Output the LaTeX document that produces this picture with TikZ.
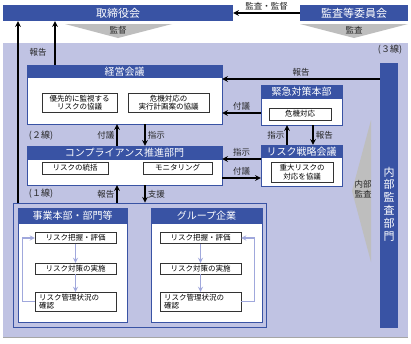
\documentclass[tikz,border=0pt]{standalone}
\usepackage{fontspec}
\setmainfont{Noto Sans CJK JP}
\usetikzlibrary{positioning}
\definecolor{hblue}{RGB}{57,83,164}
\definecolor{lav}{RGB}{192,195,227}
\definecolor{trigray}{RGB}{190,190,190}
\definecolor{ltarr}{RGB}{160,168,220}

\begin{document}
\begin{tikzpicture}[x=1pt,y=-1pt,>=stealth,
  font=\fontsize{8.5}{10}\selectfont,
  bar/.style={fill=hblue,text=white,inner sep=0pt,font=\fontsize{11}{12}\selectfont},
  hdr/.style={fill=hblue,text=white,inner sep=0pt,anchor=north,font=\fontsize{10}{11}\selectfont},
  body/.style={draw=hblue,fill=white,inner sep=0pt},
  item/.style={draw=black!80,fill=white,inner sep=0pt,align=center,font=\fontsize{7.5}{8.5}\selectfont},
  arr/.style={->,line width=1.5pt},
  lt/.style={->,ltarr,line width=1.2pt},
  lbl/.style={text=black!85,inner sep=1pt}]
  \useasboundingbox (0,0) rectangle (411,343);
  \fill[white] (0,0) rectangle (411,343);

  % background panel
  \fill[lav] (3,43) rectangle (408,337);
  \draw[black!35] (3,337) -- (408,337);

  % top row
  \node[bar,minimum width=230,minimum height=16] (board) at (118,13) {取締役会};
  \node[bar,minimum width=108,minimum height=16] (audcom) at (354,13) {監査等委員会};
  \draw[arr] (audcom) -- node[lbl,above=1pt] {監査・監督} (board);

  \fill[trigray] (65,24) -- (172,24) -- (118,38) -- cycle;
  \node[lbl] (tkan) at (118,30) {監督};
  \fill[trigray] (300,24) -- (408,24) -- (354,38) -- cycle;
  \node[lbl] (tsa) at (354,30) {監査};

  \node[lbl,font=\fontsize{9}{10}\selectfont] (l3) at (390,50) {(３線)};

  % internal audit
  \node[fill=hblue,minimum width=18,minimum height=265,inner sep=0pt] (naibu) at (389,195.5) {};
  \node[text=white,align=center,inner sep=0pt,font=\fontsize{11}{12.8}\selectfont] (naibutx) at (389,204) {内\\部\\監\\査\\部\\門};
  \fill[trigray] (371,120) -- (371,262) -- (352,191) -- cycle;
  \node[lbl,align=center,font=\fontsize{8.5}{10.5}\selectfont] (tnai) at (363,189) {内部\\監査};

  % management meeting
  \node[body,minimum width=195,minimum height=59] (keiei) at (124.5,94.5) {};
  \node[hdr,minimum width=195,minimum height=13] (keieih) at (keiei.north) {経営会議};
  \node[item,minimum width=75,minimum height=19] (k1) at (79.5,102.5) {優先的に監視する\\リスクの協議};
  \node[item,minimum width=81,minimum height=19] (k2) at (168.5,102.5) {危機対応の\\実行計画案の協議};

  % emergency HQ
  \node[body,minimum width=81,minimum height=40] (emerg) at (301.5,105) {};
  \node[hdr,minimum width=81,minimum height=14] (emergh) at (emerg.north) {緊急対策本部};
  \node[item,minimum width=62,minimum height=12] (e1) at (300,114) {危機対応};

  % risk strategy meeting
  \node[body,minimum width=81,minimum height=41] (risk) at (301.5,165.5) {};
  \node[hdr,minimum width=81,minimum height=13] (riskh) at (risk.north) {リスク戦略会議};
  \node[item,minimum width=62,minimum height=20] (r1) at (302,172) {重大リスクの\\対応を協議};

  % compliance
  \node[body,minimum width=195,minimum height=39] (comp) at (124.5,165.5) {};
  \node[hdr,minimum width=195,minimum height=14] (comph) at (comp.north) {コンプライアンス推進部門};
  \node[item,minimum width=66,minimum height=12] (c1) at (75,168) {リスクの統括};
  \node[item,minimum width=69,minimum height=12] (c2) at (177.5,168) {モニタリング};

  % first line
  \node[draw=hblue,fill=lav,line width=0.8pt,minimum width=253,minimum height=124,inner sep=0pt] (line1) at (139.5,265) {};
  \node[body,minimum width=109,minimum height=114] (jigyo) at (72.5,265) {};
  \node[hdr,minimum width=109,minimum height=16] (jigyoh) at (jigyo.north) {事業本部・部門等};
  \node[body,minimum width=111,minimum height=114] (group) at (206.5,265) {};
  \node[hdr,minimum width=111,minimum height=16] (grouph) at (group.north) {グループ企業};

  \node[item,minimum width=81,minimum height=11] (s1) at (75.5,238) {リスク把握・評価};
  \node[item,minimum width=81,minimum height=11] (s2) at (75.5,268.5) {リスク対策の実施};
  \node[item,minimum width=81,minimum height=19,align=left,text width=73] (s3) at (75.5,301.5) {リスク管理状況の\\確認};
  \draw[lt] (s1) -- (s2);
  \draw[lt] (s2) -- (s3);
  \draw[lt] (s3.west) -- ++(-12,0) |- (s1.west);

  \node[item,minimum width=81,minimum height=11] (g1) at (200.5,238) {リスク把握・評価};
  \node[item,minimum width=81,minimum height=11] (g2) at (200.5,268.5) {リスク対策の実施};
  \node[item,minimum width=81,minimum height=19,align=left,text width=73] (g3) at (200.5,301.5) {リスク管理状況の\\確認};
  \draw[lt] (g1) -- (g2);
  \draw[lt] (g2) -- (g3);
  \draw[lt] (g3.east) -- ++(13,0) |- (g1.east);

  % line labels
  \node[lbl,font=\fontsize{9}{10}\selectfont] (l2) at (41,136) {(２線)};
  \node[lbl,font=\fontsize{9}{10}\selectfont] (l1) at (41,194) {(１線)};

  % connectors
  \coordinate (xa) at (18,0);
  \coordinate (xb) at (55,0);
  \coordinate (xu) at (117,0);
  \coordinate (xd) at (145,0);
  \coordinate (xeu) at (287,0);
  \coordinate (xed) at (313,0);
  \draw[arr] (line1.north -| xa) -- (board.south -| xa);
  \draw[arr] (keiei.north -| xb) -- (board.south -| xb);
  \node[lbl] (rep0) at (38,52) {報告};

  \draw[arr] (comp.north -| xu) -- node[lbl,left=1pt] {付議} (keiei.south -| xu);
  \draw[arr] (keiei.south -| xd) -- node[lbl,right=1pt] {指示} (comp.north -| xd);
  \draw[arr] (line1.north -| xu) -- node[lbl,left=1pt] {報告} (comp.south -| xu);
  \draw[arr] (comp.south -| xd) -- node[lbl,right=1pt] {支援} (line1.north -| xd);

  \draw[arr] (risk.north -| xeu) -- node[lbl,left=1pt] {指示} (emerg.south -| xeu);
  \draw[arr] (emerg.south -| xed) -- node[lbl,right=1pt] {報告} (risk.north -| xed);

  \coordinate (ya) at (0,79);
  \coordinate (yb) at (0,113);
  \coordinate (yc) at (0,159);
  \coordinate (yd) at (0,178);
  \draw[arr] (naibu.west |- ya) -- node[lbl,above=1pt] {報告} (keiei.east |- ya);
  \draw[arr] (emerg.west |- yb) -- node[lbl,above=1pt] {付議} (keiei.east |- yb);
  \draw[arr] (risk.west |- yc) -- node[lbl,above=1pt] {指示} (comp.east |- yc);
  \draw[arr] (comp.east |- yd) -- node[lbl,above=1pt] {付議} (risk.west |- yd);
\end{tikzpicture}
\end{document}
